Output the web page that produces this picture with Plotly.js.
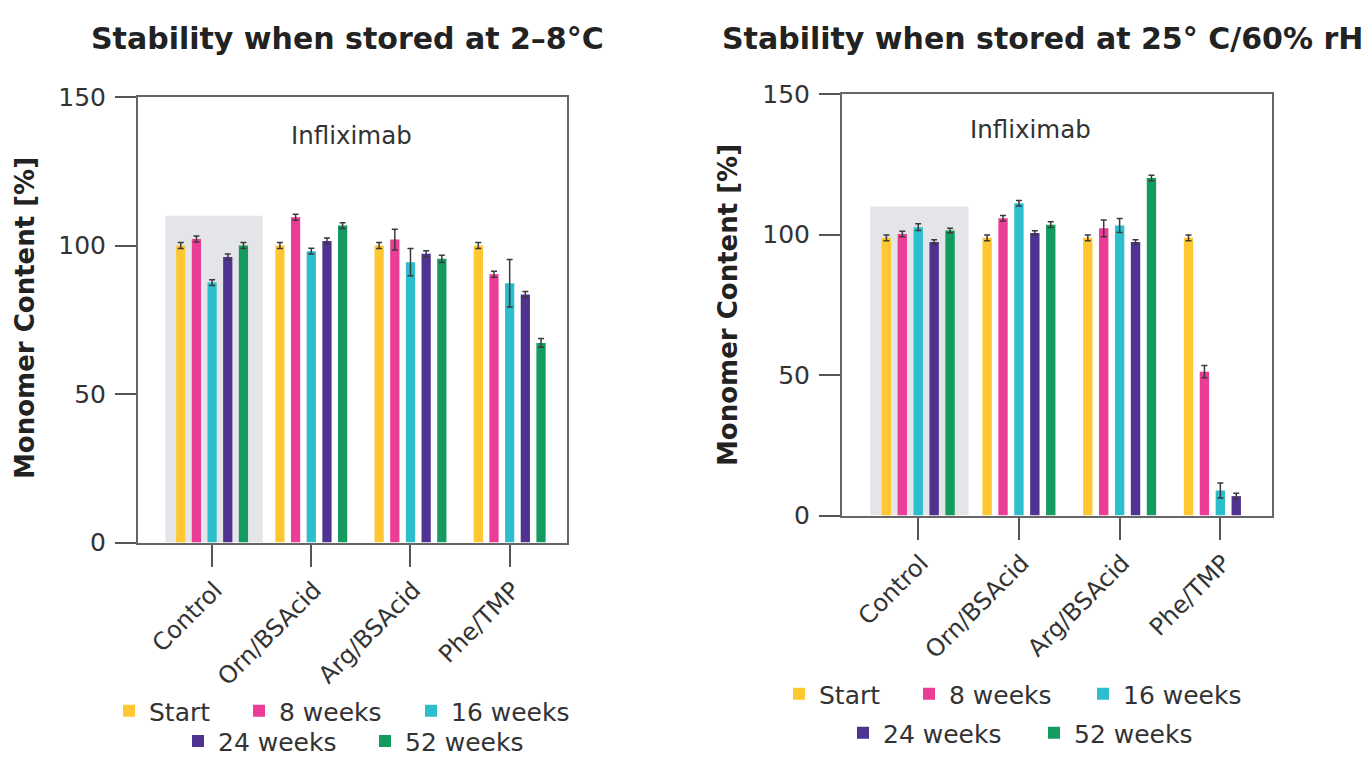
<!DOCTYPE html>
<html>
<head>
<meta charset="utf-8">
<script src="https://cdn.plot.ly/plotly-3.0.1.min.js"></script>
<style>html,body{margin:0;padding:0;background:#fff;overflow:hidden;}#chart{width:1367px;height:765px;}</style>
</head>
<body>
<div id="chart"></div>
<script>
// ---- data ----
const categories = ['Control', 'Orn/BSAcid', 'Arg/BSAcid', 'Phe/TMP'];
const seriesNames = ['Start', '8 weeks', '16 weeks', '24 weeks', '52 weeks'];
const seriesColors = ['#FFC832', '#EB3C96', '#2DBECD', '#503291', '#149B5F'];

// Stored at 2-8 °C
const coldStart = [100.0, 100.0, 100.0, 100.0];
const cold8w    = [102.2, 109.5, 102.0, 90.3];
const cold16w   = [87.5, 98.1, 94.4, 87.3];
const cold24w   = [96.1, 101.5, 97.2, 83.5];
const cold52w   = [100.0, 106.7, 95.5, 67.2];
const coldStartErr = [1.0, 1.0, 1.0, 1.0];
const cold8wErr    = [1.0, 1.0, 3.5, 1.0];
const cold16wErr   = [1.0, 1.0, 4.6, 8.0];
const cold24wErr   = [1.0, 1.0, 1.0, 1.0];
const cold52wErr   = [1.0, 1.0, 1.2, 1.5];

// Stored at 25 °C / 60 % rH
const warmStart = [98.8, 98.8, 98.8, 98.8];
const warm8w    = [100.2, 105.8, 102.2, 51.2];
const warm16w   = [102.6, 111.1, 103.2, 8.9];
const warm24w   = [97.3, 100.5, 97.3, 6.9];
const warm52w   = [101.4, 103.5, 120.1, null];
const warmStartErr = [1.0, 1.0, 1.0, 1.0];
const warm8wErr    = [1.0, 1.0, 3.0, 2.2];
const warm16wErr   = [1.2, 1.0, 2.5, 2.7];
const warm24wErr   = [0.8, 0.8, 0.8, 1.0];
const warm52wErr   = [0.8, 1.0, 1.0, null];

const controlShadeTop = 110;

const coldSeries = [coldStart, cold8w, cold16w, cold24w, cold52w];
const coldErrs = [coldStartErr, cold8wErr, cold16wErr, cold24wErr, cold52wErr];
const warmSeries = [warmStart, warm8w, warm16w, warm24w, warm52w];
const warmErrs = [warmStartErr, warm8wErr, warm16wErr, warm24wErr, warm52wErr];

// ---- build ----
const FONT = 'DejaVu Sans, Verdana, sans-serif';
const TXT = '#333333';
const W = 1367, H = 765;
const px = v => v / W;
const py = v => (H - v) / H;

const traces = [];
let legendCount = 0;
const legendIds = [];
function addSet(values, errs, xa, ya) {
  values.forEach((v, i) => {
    legendCount += 1;
    const id = legendCount === 1 ? 'legend' : 'legend' + legendCount;
    legendIds.push(id);
    traces.push({
      type: 'bar',
      name: seriesNames[i],
      x: categories,
      y: v,
      xaxis: xa, yaxis: ya,
      legend: id,
      marker: {color: seriesColors[i], line: {width: 0}},
      error_y: {type: 'data', array: errs[i], visible: true, color: '#3a3a3a', thickness: 1.5, width: 3},
      hoverinfo: 'skip'
    });
  });
}
addSet(coldSeries, coldErrs, 'x', 'y');
addSet(warmSeries, warmErrs, 'x2', 'y2');

function xAxis(domain, range, anchor) {
  return {
    domain: domain, range: range, type: 'category', anchor: anchor, fixedrange: true,
    showline: true, linecolor: '#666', linewidth: 2, mirror: true,
    ticks: 'outside', ticklen: 22, tickwidth: 2, tickcolor: '#555',
    tickangle: -45, ticklabelshift: 3, tickfont: {family: FONT, size: 24, color: TXT},
    showgrid: false, zeroline: false, automargin: false
  };
}
function yAxis(domain, anchor) {
  return {
    domain: domain, range: [0, 150], anchor: anchor, fixedrange: true,
    tickvals: [0, 50, 100, 150], showline: true, linecolor: '#666', linewidth: 2, mirror: true,
    ticks: 'outside', ticklen: 21, tickwidth: 2, tickcolor: '#555', ticklabelstandoff: 4,
    tickfont: {family: FONT, size: 25, color: TXT},
    showgrid: false, zeroline: false, automargin: false
  };
}
function legendAt(markerLeft, rowY, bottom) {
  const o = {orientation: 'h', x: px(markerLeft - 14), xanchor: 'left',
          font: {family: FONT, size: 25, color: TXT}, bgcolor: 'rgba(0,0,0,0)', borderwidth: 0};
  if (bottom) { o.y = 0.001; o.yanchor = 'bottom'; } else { o.y = py(rowY); o.yanchor = 'middle'; }
  return o;
}
// marker left edge (px) and row centre (px) for each legend entry
const legendSpots = [
  [123, 711, false], [253, 711, false], [425, 711, false], [192, 0, true], [379, 0, true],
  [793, 694, false], [923, 694, false], [1097, 694, false], [857, 733, false], [1048, 733, false]
];

const layout = {
  width: W, height: H,
  margin: {l: 0, r: 0, t: 0, b: 0},
  paper_bgcolor: '#fff', plot_bgcolor: '#fff',
  font: {family: FONT, color: TXT},
  barmode: 'group', bargap: 0.21, bargroupgap: 0.41,
  showlegend: true,
  xaxis: xAxis([px(138), px(567)], [-0.747, 3.578], 'y'),
  yaxis: yAxis([py(542.5), py(97)], 'x'),
  xaxis2: xAxis([px(842), px(1272)], [-0.757, 3.513], 'y2'),
  yaxis2: yAxis([py(515.5), py(94)], 'x2'),
  shapes: [
    {type: 'rect', xref: 'x', yref: 'y', x0: -0.47, x1: 0.51, y0: 0, y1: controlShadeTop,
     fillcolor: '#e4e5e8', line: {width: 0}, layer: 'below'},
    {type: 'rect', xref: 'x2', yref: 'y2', x0: -0.477, x1: 0.5, y0: 0, y1: controlShadeTop,
     fillcolor: '#e4e5e8', line: {width: 0}, layer: 'below'}
  ],
  annotations: [
    {text: 'Stability when stored at 2–8°C', xref: 'paper', yref: 'paper', x: px(347), y: py(38),
     showarrow: false, xanchor: 'center', yanchor: 'middle', font: {family: FONT, size: 30, color: '#222', weight: 'bold'}},
    {text: 'Stability when stored at 25° C/60% rH', xref: 'paper', yref: 'paper', x: px(1042), y: py(38),
     showarrow: false, xanchor: 'center', yanchor: 'middle', font: {family: FONT, size: 30, color: '#222', weight: 'bold'}},
    {text: 'Monomer Content [%]', xref: 'paper', yref: 'paper', x: px(25), y: py(318), textangle: -90,
     showarrow: false, xanchor: 'center', yanchor: 'middle', font: {family: FONT, size: 26, color: '#222', weight: 'bold'}},
    {text: 'Monomer Content [%]', xref: 'paper', yref: 'paper', x: px(728), y: py(305), textangle: -90,
     showarrow: false, xanchor: 'center', yanchor: 'middle', font: {family: FONT, size: 26, color: '#222', weight: 'bold'}},
    {text: 'Infliximab', xref: 'paper', yref: 'paper', x: px(351), y: py(135),
     showarrow: false, xanchor: 'center', yanchor: 'middle', font: {family: FONT, size: 24.5, color: TXT}},
    {text: 'Infliximab', xref: 'paper', yref: 'paper', x: px(1030), y: py(130),
     showarrow: false, xanchor: 'center', yanchor: 'middle', font: {family: FONT, size: 24.5, color: TXT}}
  ]
};
legendIds.forEach((id, i) => {
  const s = legendSpots[i];
  layout[id] = legendAt(s[0], s[1], s[2]);
});

Plotly.newPlot('chart', traces, layout, {displayModeBar: false, staticPlot: true});
</script>
</body>
</html>
